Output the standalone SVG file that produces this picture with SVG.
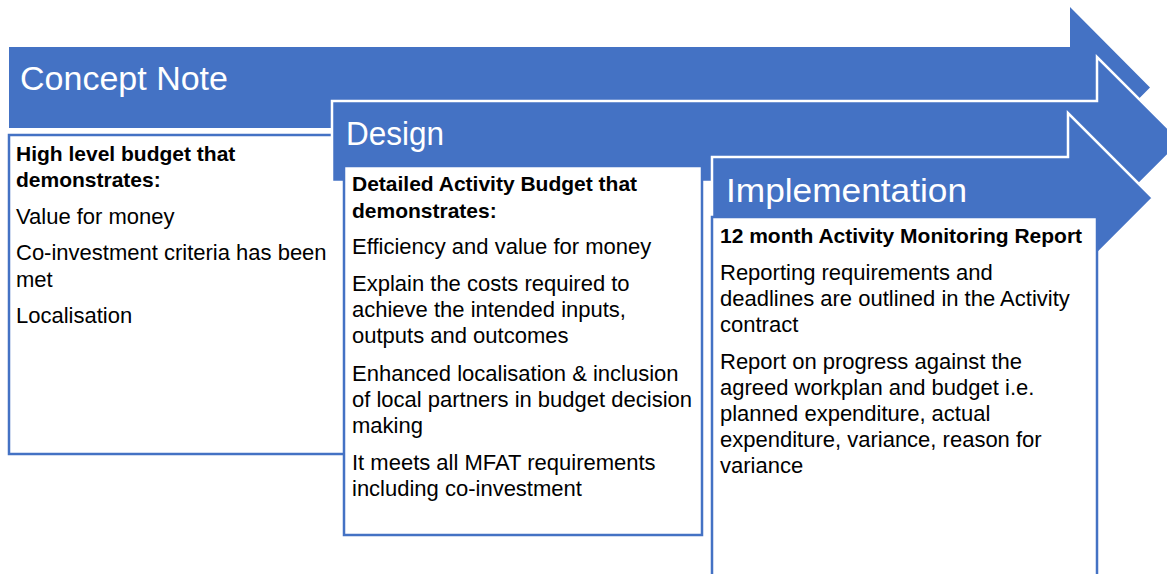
<svg xmlns="http://www.w3.org/2000/svg" width="1167" height="574" viewBox="0 0 1167 574">
<style>
.arrow{fill:#4472C4;}
.arrow.o{stroke:#FFFFFF;stroke-width:2.5;stroke-linejoin:miter;}
.box{fill:#FFFFFF;stroke:#4472C4;stroke-width:2.5;}
.title{font-family:"Liberation Sans",Arial,sans-serif;font-size:33px;fill:#FFFFFF;}
.b{font-family:"Liberation Sans",Arial,sans-serif;font-size:21px;font-weight:bold;fill:#000000;}
.t{font-family:"Liberation Sans",Arial,sans-serif;font-size:22px;fill:#000000;}
</style>
<rect width="1167" height="574" fill="#FFFFFF"/>
<g id="concept">
<path class="arrow" d="M9,47 H1070 V7 L1150,87.5 L1070,168 V128 H9 Z"/>
<text class="title" x="20" y="90" textLength="208" lengthAdjust="spacingAndGlyphs">Concept Note</text>
<rect class="box" x="9" y="135" width="336" height="319"/>
<text class="b" x="16" y="161">High level budget that</text>
<text class="b" x="16" y="187">demonstrates:</text>
<text class="t" x="16" y="224">Value for money</text>
<text class="t" x="16" y="260">Co-investment criteria has been</text>
<text class="t" x="16" y="287">met</text>
<text class="t" x="16" y="323">Localisation</text>
</g>
<g id="design">
<path class="arrow o" d="M332,101 H1097 V57 L1181.5,141.5 L1097,226 V182 H332 Z"/>
<text class="title" x="346" y="145" textLength="98" lengthAdjust="spacingAndGlyphs">Design</text>
<rect class="box" x="344" y="166" width="358" height="369"/>
<text class="b" x="352" y="191">Detailed Activity Budget that</text>
<text class="b" x="352" y="218">demonstrates:</text>
<text class="t" x="352" y="254">Efficiency and value for money</text>
<text class="t" x="352" y="291">Explain the costs required to</text>
<text class="t" x="352" y="317">achieve the intended inputs,</text>
<text class="t" x="352" y="343">outputs and outcomes</text>
<text class="t" x="352" y="381">Enhanced localisation &amp; inclusion</text>
<text class="t" x="352" y="407">of local partners in budget decision</text>
<text class="t" x="352" y="433">making</text>
<text class="t" x="352" y="470">It meets all MFAT requirements</text>
<text class="t" x="352" y="496">including co-investment</text>
</g>
<g id="implementation">
<path class="arrow o" d="M712,157 H1068 V113 L1153,198 L1068,283 V239 H712 Z"/>
<text class="title" x="726" y="202" textLength="241" lengthAdjust="spacingAndGlyphs">Implementation</text>
<rect class="box" x="712" y="217" width="385" height="370"/>
<text class="b" x="720" y="243">12 month Activity Monitoring Report</text>
<text class="t" x="720" y="280">Reporting requirements and</text>
<text class="t" x="720" y="306">deadlines are outlined in the Activity</text>
<text class="t" x="720" y="332">contract</text>
<text class="t" x="720" y="369">Report on progress against the</text>
<text class="t" x="720" y="395">agreed workplan and budget i.e.</text>
<text class="t" x="720" y="421">planned expenditure, actual</text>
<text class="t" x="720" y="447">expenditure, variance, reason for</text>
<text class="t" x="720" y="473">variance</text>
</g>
<g id="connectors"></g>
</svg>
